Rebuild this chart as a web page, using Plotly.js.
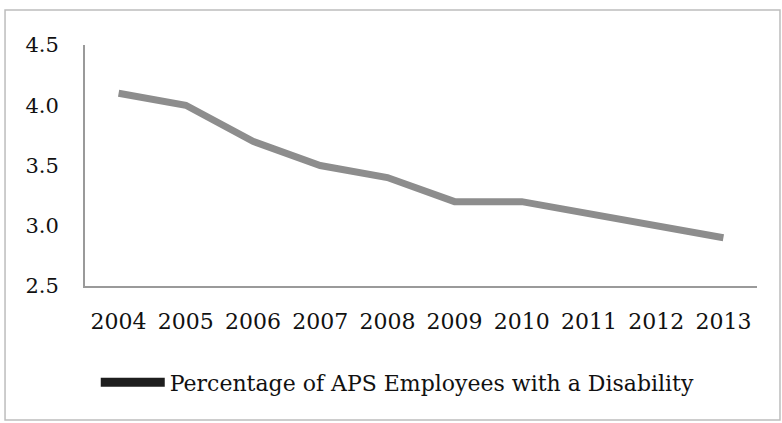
<!DOCTYPE html>
<html>
<head>
<meta charset="utf-8">
<script src="https://cdn.plot.ly/plotly-3.0.1.min.js"></script>
<style>html,body{margin:0;padding:0;background:#fff;}#chart{width:782px;height:423px;}</style>
</head>
<body>
<div id="chart"></div>
<script>
var years = ['2004','2005','2006','2007','2008','2009','2010','2011','2012','2013'];
var disabilityPct = [4.1, 4.0, 3.7, 3.5, 3.4, 3.2, 3.2, 3.1, 3.0, 2.9];
var seriesName = 'Percentage of APS Employees with a Disability';
var yTicks = [2.5, 3.0, 3.5, 4.0, 4.5];

var FONT = 'DejaVu Serif, serif';

var dataLine = {
  type: 'scatter', mode: 'lines',
  x: years, y: disabilityPct,
  line: {color: '#8d8d8d', width: 7, shape: 'linear'},
  showlegend: false, hoverinfo: 'skip'
};
var legendItem = {
  type: 'scatter', mode: 'lines',
  x: years, y: disabilityPct.map(function(){return null;}),
  name: seriesName,
  line: {color: '#1e1e1e', width: 9},
  showlegend: true, hoverinfo: 'skip'
};

var layout = {
  width: 782, height: 423,
  margin: {l: 85, r: 25, t: 45, b: 137},
  paper_bgcolor: '#ffffff', plot_bgcolor: '#ffffff',
  font: {family: FONT, color: '#111111', size: 21},
  showlegend: true,
  legend: {
    orientation: 'h', x: 0.016, xanchor: 'left', y: -0.40, yanchor: 'middle',
    font: {family: FONT, size: 22, color: '#111111'},
    itemwidth: 64, bgcolor: 'rgba(0,0,0,0)'
  },
  xaxis: {
    type: 'category', range: [-0.5, 9.5],
    showline: true, linecolor: '#9a9a9a', linewidth: 2,
    showgrid: false, zeroline: false, ticks: '',
    tickfont: {family: FONT, size: 22, color: '#111111'},
    ticklabelstandoff: 15
  },
  yaxis: {
    range: [2.5, 4.5], tickvals: yTicks, tickformat: '.1f',
    showline: true, linecolor: '#9a9a9a', linewidth: 2,
    showgrid: false, zeroline: false, ticks: '',
    tickfont: {family: FONT, size: 21, color: '#111111'},
    ticklabelstandoff: 20
  },
  shapes: [{
    type: 'rect', xref: 'paper', yref: 'paper',
    x0: -0.119, x1: 1.0342, y0: -0.556, y1: 1.145,
    line: {color: '#bdbdbd', width: 1.5}, layer: 'below'
  }]
};

Plotly.newPlot('chart', [dataLine, legendItem], layout, {displayModeBar: false, staticPlot: true});
</script>
</body>
</html>
